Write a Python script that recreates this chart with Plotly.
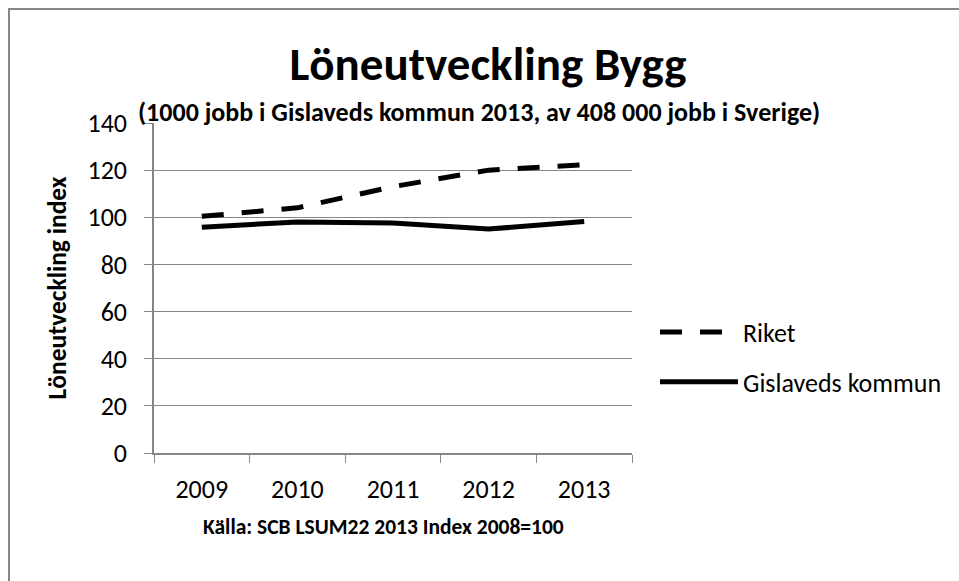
import plotly.graph_objects as go

years = ["2009", "2010", "2011", "2012", "2013"]
riket = [100.4, 104.0, 113.0, 120.0, 122.3]
gislaved = [95.8, 98.0, 97.6, 95.0, 98.2]
y_ticks = [0, 20, 40, 60, 80, 100, 120, 140]

FONT = "Carlito, Lato, sans-serif"
GRAY = "#868686"

W, H = 959, 581
PL, PR, PT, PB = 154, 632, 123, 453   # plot area in page pixels

fig = go.Figure()
fig.add_trace(go.Scatter(
    x=years, y=riket, name="Riket", mode="lines",
    line=dict(color="black", width=5, dash="22px,18px"),
    legendgroup="a",
))
fig.add_trace(go.Scatter(
    x=years, y=gislaved, name="Gislaveds kommun", mode="lines",
    line=dict(color="black", width=5),
    legendgroup="b",
))

def px(x):
    return (x - PL) / (PR - PL)

def py(y):
    return (PB - y) / (PB - PT)

fig.update_layout(
    width=W, height=H,
    margin=dict(l=PL, r=W - PR, t=PT, b=H - PB),
    paper_bgcolor="white", plot_bgcolor="white",
    font=dict(family=FONT, size=26, color="black"),
    title=dict(
        text="<b>Löneutveckling Bygg</b>",
        x=488 / W, xref="container", xanchor="center",
        y=1 - 64 / H, yref="container", yanchor="middle",
        font=dict(family=FONT, size=47, color="black"),
    ),
    showlegend=True,
    legend=dict(
        x=px(655), xanchor="left",
        y=py(357), yanchor="middle",
        font=dict(family=FONT, size=26, color="black"),
        itemwidth=78, tracegroupgap=13,
        bgcolor="rgba(0,0,0,0)",
    ),
    xaxis=dict(
        type="category", range=[-0.5, 4.5],
        tickson="boundaries", ticks="outside", ticklen=8,
        tickcolor=GRAY, showline=True, linecolor=GRAY, linewidth=1.5,
        showgrid=False, zeroline=False, ticklabelstandoff=12,
        tickfont=dict(family=FONT, size=26, color="black"),
    ),
    yaxis=dict(
        range=[0, 140], tickvals=y_ticks, ticks="outside", ticklen=8,
        tickcolor=GRAY, showline=True, linecolor=GRAY, linewidth=1.5,
        showgrid=True, gridcolor=GRAY, gridwidth=1, zeroline=False,
        ticklabelstandoff=12,
        tickfont=dict(family=FONT, size=26, color="black"),
        title=dict(text="<b>Löneutveckling index</b>",
                   font=dict(family=FONT, size=25.5, color="black"), standoff=14),
    ),
    annotations=[
        dict(text="<b>(1000 jobb i Gislaveds kommun 2013, av 408 000 jobb i Sverige)</b>",
             xref="paper", yref="paper", x=px(479), y=py(112),
             xanchor="center", yanchor="middle", showarrow=False,
             font=dict(family=FONT, size=26, color="black")),
        dict(text="<b>Källa: SCB LSUM22 2013 Index 2008=100</b>",
             xref="paper", yref="paper", x=px(383), y=py(527),
             xanchor="center", yanchor="middle", showarrow=False,
             font=dict(family=FONT, size=21.5, color="black")),
    ],
    shapes=[
        dict(type="rect", xref="paper", yref="paper",
             x0=px(9), x1=px(1200), y0=py(800), y1=py(9),
             line=dict(color=GRAY, width=2), fillcolor="rgba(0,0,0,0)", layer="below"),
    ],
)

fig.write_html(
    "out.html",
    config={"displayModeBar": False},
    post_script="document.body.style.margin='0';document.body.style.overflow='hidden';",
)
